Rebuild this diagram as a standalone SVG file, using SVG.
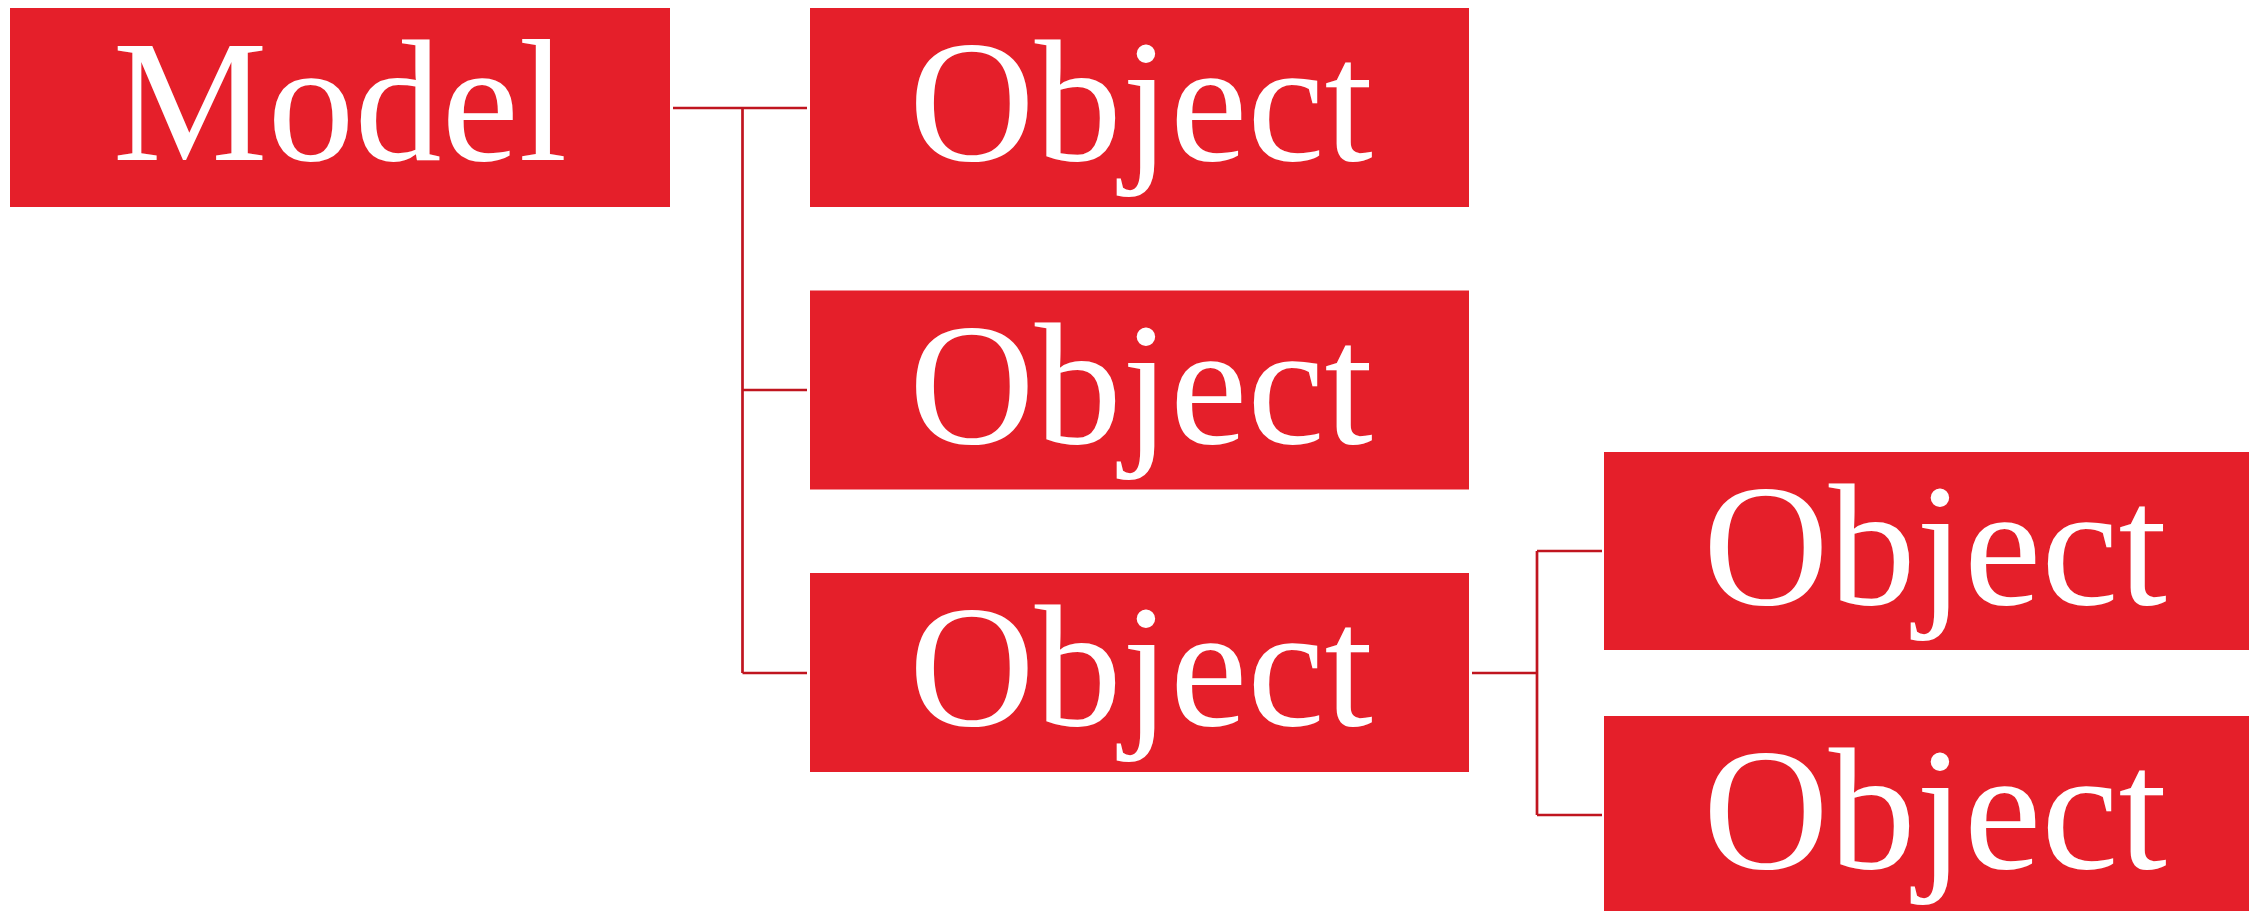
<svg xmlns="http://www.w3.org/2000/svg" width="2249" height="911" viewBox="0 0 2249 911">
  <style>
    .box { fill: #e51f2a; }
    .label { font-family: "Liberation Serif", Tinos, "Times New Roman", Times, serif; font-size: 174px; font-weight: normal; fill: #ffffff; text-anchor: middle; }
    .link { fill: none; stroke: #c0151f; stroke-width: 2.7; stroke-linecap: butt; stroke-linejoin: miter; }
  </style>
  <rect width="2249" height="911" fill="#ffffff"/>

  <!-- tree connectors -->
  <g id="connectors">
    <path class="link" d="M673 108 H742.5 M742.5 108 V673 M742.5 108 H807 M742.5 390 H807 M742.5 673 H807"/>
    <path class="link" d="M1472 673 H1537 M1537 551 V815 M1537 551 H1602 M1537 815 H1602"/>
  </g>

  <!-- root -->
  <g id="model">
    <rect class="box" x="10" y="8" width="660" height="199"/>
    <text class="label" x="340" y="160" font-family="Liberation Serif, Tinos, Times New Roman, serif">Model</text>
  </g>

  <!-- first level -->
  <g id="object-1">
    <rect class="box" x="810" y="8" width="659" height="199"/>
    <text class="label" x="1141" y="160" font-family="Liberation Serif, Tinos, Times New Roman, serif">Object</text>
  </g>
  <g id="object-2">
    <rect class="box" x="810" y="290.5" width="659" height="199"/>
    <text class="label" x="1141" y="442.5" font-family="Liberation Serif, Tinos, Times New Roman, serif">Object</text>
  </g>
  <g id="object-3">
    <rect class="box" x="810" y="573" width="659" height="199"/>
    <text class="label" x="1141" y="725" font-family="Liberation Serif, Tinos, Times New Roman, serif">Object</text>
  </g>

  <!-- second level -->
  <g id="object-3-1">
    <rect class="box" x="1604" y="452" width="659" height="198"/>
    <text class="label" x="1935" y="604" font-family="Liberation Serif, Tinos, Times New Roman, serif">Object</text>
  </g>
  <g id="object-3-2">
    <rect class="box" x="1604" y="716" width="659" height="198"/>
    <text class="label" x="1935" y="868" font-family="Liberation Serif, Tinos, Times New Roman, serif">Object</text>
  </g>
</svg>
